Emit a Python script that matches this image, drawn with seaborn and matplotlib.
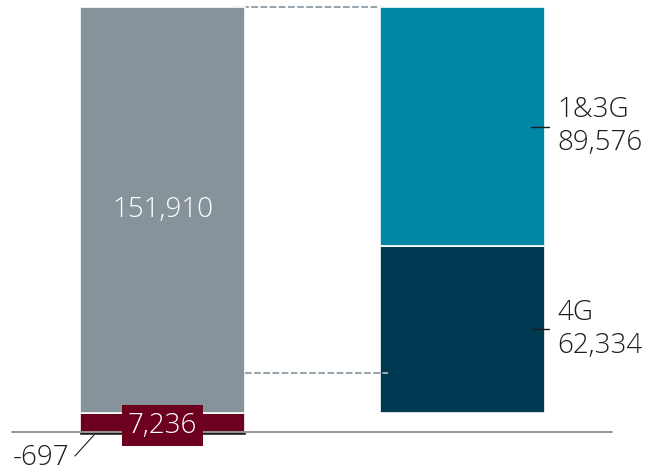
import matplotlib
matplotlib.use("Agg")
import matplotlib.pyplot as plt
import seaborn as sns
import pandas as pd

# data
columns = ["total", "split"]
segment_names = ["neg", "base", "total", "4G", "1&3G"]
segment_cols = ["total", "total", "total", "split", "split"]
segment_vals = [-697, 7236, 151910, 62334, 89576]
segment_bottoms = [0, 0, 7236, 7236, 7236 + 62334]
segment_colors = ["#1a1a1a", "#6d001e", "#87939b", "#003a52", "#0087a6"]
connector_levels = [159146, 22100]

df = pd.DataFrame({
    "col": segment_cols,
    "name": segment_names,
    "value": segment_vals,
    "bottom": segment_bottoms,
    "color": segment_colors,
})

sns.set_style("white")
plt.rcParams["font.family"] = ["Open Sans", "DejaVu Sans"]

fig = plt.figure(figsize=(6.49, 4.72), dpi=100)
ax = fig.add_axes([0, 0, 1, 1])

W = 0.55
for _, row in df.iterrows():
    edge = "white" if row["name"] != "neg" else row["color"]
    lw = 1.2 if row["name"] != "neg" else 0.4
    sns.barplot(x=[row["col"]], y=[row["value"]], order=columns, bottom=row["bottom"],
                color=row["color"], saturation=1, width=W, edgecolor=edge,
                linewidth=lw, ax=ax)

px = 374.5  # value per pixel
ax.set_xlim(-162.5 / 300, (649 - 162.5) / 300)
ax.set_ylim(-40 * px, 432 * px)
ax.axis("off")

# baseline
ax.plot([(12 - 162.5) / 300, (612 - 162.5) / 300], [0, 0], color="#8c8c8c", lw=1.3, zorder=1)

# dashed connectors
ax.plot([(233 - 162.5) / 300, (385 - 162.5) / 300], [connector_levels[0]] * 2,
        color="#9aa5ae", lw=1.5, dashes=(3.2, 1.2), zorder=0)
ax.plot([(245 - 162.5) / 300, (388 - 162.5) / 300], [connector_levels[1]] * 2,
        color="#9aa5ae", lw=1.5, dashes=(3.2, 1.2), zorder=3)

fs = 20
fw = "light"
txt = "#1e1e1e"
# value in gray bar
ax.text(0, 7236 + 151910 / 2, f"{151910:,}", color="white", fontsize=fs, fontweight=fw,
        ha="center", va="center")
# base label box
ax.text(0, 7236 / 2 - 1200, f"{7236:,}", color="white", fontsize=fs, fontweight=fw,
        ha="center", va="center",
        bbox=dict(boxstyle="square,pad=0.22", fc="#6d001e", ec="none"), zorder=5)
# negative label with leader
ax.text((69 - 162.5) / 300, -26 * px, f"{-697}", color=txt, fontsize=fs, fontweight=fw,
        ha="right", va="center")
ax.plot([(75 - 162.5) / 300, (94 - 162.5) / 300], [-24 * px, -3 * px], color=txt, lw=0.8)

# right side labels
right = 1 + W / 2
for name, val, bot in zip(segment_names[3:], segment_vals[3:], segment_bottoms[3:]):
    mid = bot + val / 2
    ax.plot([right - 14 / 300, right + 4 / 300], [mid, mid], color=txt, lw=1.0)
    ax.text(right + 12 / 300, mid, f"{name}\n{val:,}", color=txt, fontsize=fs, fontweight=fw,
            ha="left", va="center", linespacing=1.25)

fig.savefig("out.png", dpi=100)
